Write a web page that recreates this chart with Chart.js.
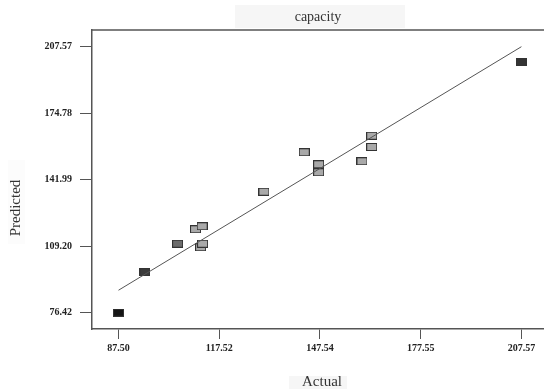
<!DOCTYPE html>
<html lang="en">

<head>
    <meta charset="UTF-8">
    <title>capacity</title>
    <script src="https://cdn.jsdelivr.net/npm/chart.js"></script>
    <style>
        body { margin: 0; background: #fff; }
        .wrap { width: 544px; height: 389px; }
    </style>
</head>

<body>
    <div class="wrap">
        <canvas id="myChart" width="544" height="389"></canvas>
    </div>

    <script>
        // actual vs predicted runs
        const actual = [87.50, 95.34, 105.10, 110.46, 112.43, 111.96, 112.55, 130.83, 142.85, 147.15, 147.15, 160.06, 162.95, 162.95, 207.57];
        const predicted = [76.42, 96.34, 110.44, 117.54, 119.02, 108.67, 110.44, 136.08, 155.50, 149.59, 145.64, 151.07, 158.12, 163.69, 199.88];
        const shades = ['#151515', '#3c3c3c', '#6c6c6c', '#a9a9a9', '#a9a9a9', '#a9a9a9', '#a9a9a9', '#a9a9a9',
            '#a9a9a9', '#a9a9a9', '#a9a9a9', '#a9a9a9', '#a9a9a9', '#a9a9a9', '#343434'];
        const xTicks = [87.50, 117.52, 147.54, 177.55, 207.57];
        const yTicks = [76.42, 109.20, 141.99, 174.78, 207.57];

        // small rectangle marker
        function marker(fill) {
            const c = document.createElement('canvas');
            c.width = 11;
            c.height = 8;
            const g = c.getContext('2d');
            g.fillStyle = '#333';
            g.fillRect(0, 0, 11, 8);
            g.fillStyle = fill;
            g.fillRect(1, 1, 9, 6);
            return c;
        }

        const labels = {
            id: 'labels',
            afterDraw(chart) {
                const ctx = chart.ctx;
                const a = chart.chartArea;
                ctx.save();
                // top frame line
                ctx.strokeStyle = '#555';
                ctx.lineWidth = 1.5;
                ctx.beginPath();
                ctx.moveTo(a.left, a.top);
                ctx.lineTo(a.right, a.top);
                ctx.stroke();

                ctx.fillStyle = '#f6f6f6';
                ctx.fillRect(235, 5, 170, 23);
                ctx.fillRect(289, 376, 58, 13);
                ctx.fillStyle = '#fcfcfc';
                ctx.fillRect(8, 160, 17, 84);

                ctx.fillStyle = '#333';
                ctx.textAlign = 'center';
                ctx.textBaseline = 'middle';
                ctx.font = '14px "Liberation Serif"';
                ctx.fillText('capacity', 318, 17);
                ctx.font = '15px "Liberation Serif"';
                ctx.fillText('Actual', 322, 382);
                ctx.translate(16, 208);
                ctx.rotate(-Math.PI / 2);
                ctx.fillText('Predicted', 0, 0);
                ctx.restore();
            }
        };

        const tickFont = { family: '"Liberation Serif"', size: 10, weight: 'bold' };

        new Chart(document.getElementById('myChart'), {
            type: 'scatter',
            data: {
                datasets: [{
                    type: 'line',
                    data: [{ x: xTicks[0], y: xTicks[0] }, { x: xTicks[4], y: xTicks[4] }],
                    borderColor: '#555',
                    borderWidth: 1,
                    pointRadius: 0,
                    fill: false
                }, {
                    data: actual.map((x, i) => ({ x: x, y: predicted[i] })),
                    pointStyle: shades.map(marker),
                    pointRadius: 5
                }]
            },
            options: {
                responsive: false,
                animation: false,
                layout: { autoPadding: false, padding: { top: 30, left: 0, right: 0, bottom: 0 } },
                plugins: {
                    legend: { display: false },
                    tooltip: { enabled: false }
                },
                scales: {
                    x: {
                        type: 'linear',
                        min: 79.6,
                        max: 214.3,
                        afterFit: (s) => {
                            s.height = 60;
                            s.paddingLeft = 0;
                            s.paddingRight = 0;
                        },
                        afterBuildTicks: (s) => { s.ticks = xTicks.map(v => ({ value: v })); },
                        ticks: {
                            font: tickFont,
                            color: '#222',
                            padding: 3,
                            maxRotation: 0,
                            callback: (v) => v.toFixed(2)
                        },
                        grid: { drawOnChartArea: false, tickLength: 10, color: '#555', lineWidth: 1 },
                        border: { color: '#555', width: 1.5 }
                    },
                    y: {
                        type: 'linear',
                        min: 68.38,
                        max: 215.8,
                        afterFit: (s) => {
                            s.width = 92;
                            s.paddingTop = 0;
                            s.paddingBottom = 0;
                        },
                        afterBuildTicks: (s) => { s.ticks = yTicks.map(v => ({ value: v })); },
                        ticks: {
                            font: tickFont,
                            color: '#222',
                            padding: 8,
                            callback: (v) => v.toFixed(2)
                        },
                        grid: { drawOnChartArea: false, tickLength: 12, color: '#555', lineWidth: 1 },
                        border: { color: '#555', width: 1.5 }
                    }
                }
            },
            plugins: [labels]
        });
    </script>

</body>

</html>
